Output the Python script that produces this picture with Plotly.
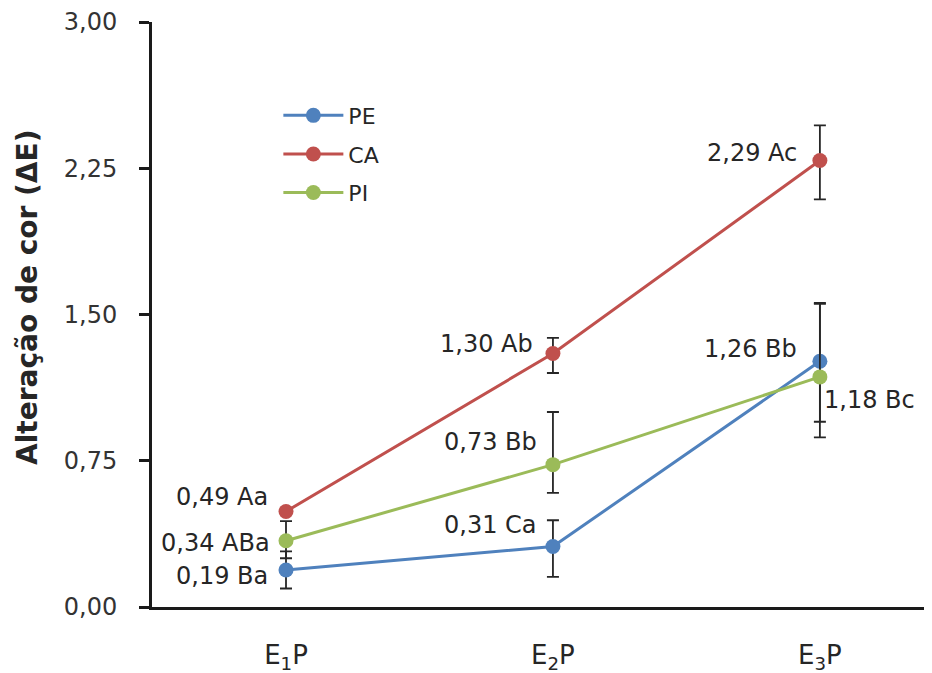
import plotly.graph_objects as go

categories = ["E<sub>1</sub>P", "E<sub>2</sub>P", "E<sub>3</sub>P"]
series_names = ["PE", "CA", "PI"]
pe_values = [0.19, 0.31, 1.26]
ca_values = [0.49, 1.30, 2.29]
pi_values = [0.34, 0.73, 1.18]
pe_err_plus = [0.095, 0.135, 0.30]
pe_err_minus = [0.095, 0.155, 0.31]
ca_err_plus = [0.0, 0.08, 0.18]
ca_err_minus = [0.0, 0.10, 0.20]
pi_err_plus = [0.10, 0.27, 0.375]
pi_err_minus = [0.09, 0.145, 0.31]
pe_letters = ["Ba", "Ca", "Bb"]
ca_letters = ["Aa", "Ab", "Ac"]
pi_letters = ["ABa", "Bb", "Bc"]
y_ticks = [0, 0.75, 1.5, 2.25, 3.0]
y_tick_labels = ["0,00", "0,75", "1,50", "2,25", "3,00"]
y_title = "Alteração de cor (ΔE)"

colors = {"PE": "#4F81BD", "CA": "#C0504D", "PI": "#9BBB59"}
FONT = "DejaVu Sans"
xs = [0, 1, 2]

fig = go.Figure()
data = {
    "PE": (pe_values, pe_err_plus, pe_err_minus),
    "CA": (ca_values, ca_err_plus, ca_err_minus),
    "PI": (pi_values, pi_err_plus, pi_err_minus),
}
for name in series_names:
    vals, ep, em = data[name]
    fig.add_trace(go.Scatter(
        x=xs, y=vals, name=name, mode="lines+markers",
        legendgroup=name,
        line=dict(color=colors[name], width=3),
        marker=dict(color=colors[name], size=15, symbol="circle"),
        error_y=dict(type="data", symmetric=False, array=ep, arrayminus=em,
                     color="#262626", thickness=1.8, width=6),
    ))

# data labels: (series values, letters, index, anchor, xshift, yshift)
label_specs = [
    (ca_values, ca_letters, 0, "right", -16, 14),
    (pi_values, pi_letters, 0, "right", -14, -2),
    (pe_values, pe_letters, 0, "right", -16, -6),
    (ca_values, ca_letters, 1, "right", -18, 10),
    (pi_values, pi_letters, 1, "right", -14, 23),
    (pe_values, pe_letters, 1, "right", -14, 22),
    (ca_values, ca_letters, 2, "right", -21, 7),
    (pe_values, pe_letters, 2, "right", -21, 12),
    (pi_values, pi_letters, 2, "left", 2, -23),
]
for vals, letters, i, anchor, xs_, ys_ in label_specs:
    v = vals[i]
    txt = f"{v:.2f}".replace(".", ",") + " " + letters[i]
    fig.add_annotation(x=xs[i], y=v, text=txt, showarrow=False,
                       xanchor=anchor, yanchor="middle", xshift=xs_, yshift=ys_,
                       font=dict(family=FONT, size=24, color="#262626"))

# y-axis title (placed slightly above the plot's vertical centre, as in the reference)
fig.add_annotation(xref="paper", yref="paper", x=-0.159, y=0.53, text=f"<b>{y_title}</b>",
                   textangle=-90, showarrow=False, xanchor="center", yanchor="middle",
                   font=dict(family=FONT, size=28, color="#262626"))

# the page body has an 8px margin, so the figure is sized/margined to compensate
fig.update_layout(
    width=924, height=665,
    margin=dict(l=144, r=0, t=14, b=66),
    plot_bgcolor="white", paper_bgcolor="white",
    font=dict(family=FONT, size=24, color="#404040"),
    showlegend=True,
    legend=dict(x=0.162, y=0.876, xanchor="left", yanchor="top",
                bgcolor="rgba(0,0,0,0)", font=dict(family=FONT, size=22, color="#262626"),
                tracegroupgap=7, itemwidth=60),
    xaxis=dict(tickmode="array", tickvals=xs, ticktext=categories,
               range=[-0.502, 2.42], showgrid=False, zeroline=False,
               showline=True, linecolor="#1a1a1a", linewidth=3,
               ticks="", ticklabelstandoff=23, automargin=False,
               tickfont=dict(family=FONT, size=26, color="#262626")),
    yaxis=dict(tickmode="array", tickvals=y_ticks, ticktext=y_tick_labels,
               range=[0, 3.0], showgrid=False, zeroline=False,
               showline=True, linecolor="#1a1a1a", linewidth=3,
               ticks="outside", ticklen=10, tickwidth=2.5, tickcolor="#1a1a1a",
               ticklabelstandoff=17, automargin=False,
               tickfont=dict(family=FONT, size=24, color="#333333")),
)

fig.write_html("out.html")
